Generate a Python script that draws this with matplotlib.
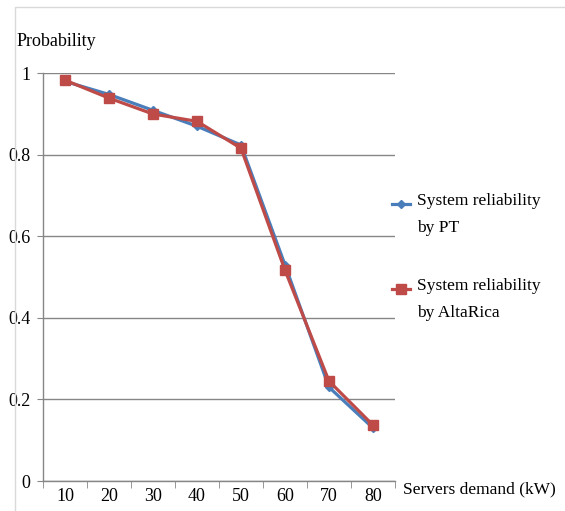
import numpy as np
import matplotlib
matplotlib.use('Agg')
import matplotlib.pyplot as plt
from matplotlib.patches import Rectangle
from matplotlib.lines import Line2D

# Data
demand = ['10', '20', '30', '40', '50', '60', '70', '80']
rel_pt = [0.98, 0.948, 0.909, 0.87, 0.824, 0.53, 0.23, 0.13]
rel_altarica = [0.983, 0.939, 0.90, 0.882, 0.816, 0.517, 0.245, 0.137]

plt.rcParams['font.family'] = ['Liberation Serif', 'DejaVu Serif']

W, H = 565, 511
fig = plt.figure(figsize=(W / 100, H / 100), dpi=100)
ax = fig.add_axes([0.0761, 0.0587, 0.623, 0.798])

# outer frame like the source
fig.patches.append(Rectangle((15 / W, -0.01), 1.0, 1 - 7 / H + 0.01,
                             transform=fig.transFigure, fill=False,
                             edgecolor='#d9d9d9', linewidth=1.0))

blue = '#4a7ebb'
red = '#be4b48'
x = np.arange(len(demand))
ax.plot(x, rel_pt, color=blue, linewidth=2.3, marker='D', markersize=4, zorder=3)
ax.plot(x, rel_altarica, color=red, linewidth=2.3, marker='s', markersize=7, zorder=4)

ax.set_xlim(-0.5, len(demand) - 0.5)
ax.set_ylim(0, 1)
ax.set_yticks([0, 0.2, 0.4, 0.6, 0.8, 1])
ax.set_yticklabels(['0', '0.2', '0.4', '0.6', '0.8', '1'], fontsize=13)
ax.set_xticks(x)
ax.set_xticklabels(demand, fontsize=13)
ax.set_xticks(np.arange(len(demand) + 1) - 0.5, minor=True)
ax.tick_params(axis='x', which='major', length=0, pad=5)
ax.tick_params(axis='x', which='minor', length=5, color='#868686', direction='out')
ax.tick_params(axis='y', length=4, color='#868686', pad=5)
ax.yaxis.grid(True, color='#868686', linewidth=1.0)
ax.set_axisbelow(True)

for s in ['top', 'right']:
    ax.spines[s].set_visible(False)
for s in ['left', 'bottom']:
    ax.spines[s].set_color('#868686')
    ax.spines[s].set_linewidth(1.0)

fig.text(17 / W, 1 - 42 / H, 'Probability', fontsize=13, va='center', ha='left')
fig.text(403 / W, 1 - 489 / H, 'Servers demand (kW)', fontsize=12.5, va='center', ha='left')

# legend drawn by hand: handle lines up with the first text line
entries = [('System reliability', 'by PT', blue, 'D', 4, 204),
           ('System reliability', 'by AltaRica', red, 's', 7, 289)]
for line1, line2, col, mk, ms, yy in entries:
    fy = 1 - yy / H
    fig.lines.append(Line2D([392 / W, 410 / W], [fy, fy], transform=fig.transFigure,
                            color=col, linewidth=2.3))
    fig.lines.append(Line2D([401 / W], [fy], transform=fig.transFigure, color=col,
                            marker=mk, markersize=ms, linestyle='none'))
    fig.text(417 / W, 1 - (yy - 3) / H, line1, fontsize=12.5, va='center', ha='left')
    fig.text(417 / W, 1 - (yy + 24) / H, line2, fontsize=12.5, va='center', ha='left')

fig.savefig('out.png', dpi=100)
